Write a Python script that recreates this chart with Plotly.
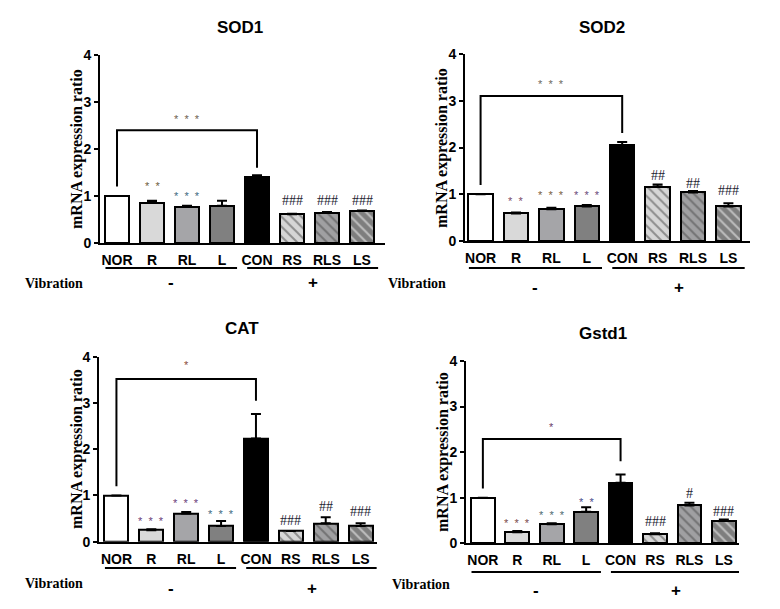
import plotly.graph_objects as go

categories = ["NOR", "R", "RL", "L", "CON", "RS", "RLS", "LS"]
titles = ["SOD1", "SOD2", "CAT", "Gstd1"]

sod1_mean = [1.00, 0.86, 0.77, 0.79, 1.40, 0.61, 0.64, 0.68]
sod1_err = [0.00, 0.04, 0.02, 0.11, 0.04, 0.01, 0.02, 0.01]
sod2_mean = [1.00, 0.59, 0.68, 0.74, 2.05, 1.16, 1.04, 0.74]
sod2_err = [0.00, 0.02, 0.03, 0.03, 0.07, 0.05, 0.03, 0.07]
cat_mean = [1.00, 0.25, 0.61, 0.34, 2.23, 0.23, 0.40, 0.34]
cat_err = [0.00, 0.02, 0.03, 0.11, 0.53, 0.00, 0.13, 0.06]
gstd1_mean = [1.00, 0.24, 0.42, 0.69, 1.33, 0.20, 0.83, 0.50]
gstd1_err = [0.00, 0.03, 0.02, 0.10, 0.18, 0.02, 0.06, 0.02]

means = [sod1_mean, sod2_mean, cat_mean, gstd1_mean]
errs = [sod1_err, sod2_err, cat_err, gstd1_err]

# significance marks: (text, bar index, y value)
sod1_marks = [("*  *  *", 2.0, 2.64), ("*  *", 1, 1.21), ("*  *  *", 2, 0.99),
              ("###", 5, 0.91), ("###", 6, 0.91), ("###", 7, 0.91)]
sod2_marks = [("*  *  *", 2.0, 3.36), ("*  *", 1, 0.86), ("*  *  *", 2, 0.99),
              ("*  *  *", 3, 0.99), ("##", 5, 1.41), ("##", 6, 1.24), ("###", 7, 1.07)]
cat_marks = [("*", 2.0, 3.82), ("*  *  *", 1, 0.45), ("*  *  *", 2, 0.83),
             ("*  *  *", 3, 0.60), ("###", 5, 0.45), ("##", 6, 0.76), ("###", 7, 0.65)]
gstd1_marks = [("*", 2.0, 2.56), ("*  *  *", 1, 0.45), ("*  *  *", 2, 0.62),
               ("*  *", 3, 0.91), ("###", 5, 0.48), ("#", 6, 1.10), ("###", 7, 0.69)]
marks = [sod1_marks, sod2_marks, cat_marks, gstd1_marks]
star_colors = [["#6e6250", "#6e6040", "#3e6a80"],
               ["#6e6a60", "#7a4a6a", "#7a6040", "#6a4a7a"],
               ["#8a4a3a", "#6a3d7a", "#6a3d7a", "#3e6a80"],
               ["#6a3d6a", "#7a4a4a", "#4e6a70", "#4a4a8a"]]

# bracket heights: (NOR bottom, top, CON bottom)
brackets = [(1.2, 2.4, 1.6), (1.2, 3.1, 2.31), (1.2, 3.52, 3.05), (1.2, 2.29, 1.8)]

fills = ["white", "#d9d9d9", "#a5a5a8", "#808080", "black", "#d6d6d6", "#a0a0a2", "#7e7e7e"]
shapes_pat = ["", "", "", "", "", "\\", "\\", "\\"]

# page has an 8px body margin; figure sized to fit the 780x609 window
OX, OY = 8, 8
FW, FH = 764, 593


def px(x):
    return (x - OX) / FW


def py(y):
    return 1 - (y - OY) / FH


# pixel layout for each panel (window coordinates)
panels = [
    dict(xl=100, xr=385, yb=243, yt=55, rng=[-0.486, 7.657], title=(240, 28),
         ytitle=(77, 149), vib=(54, 283), under=268, pm_y=282),
    dict(xl=465, xr=750, yb=241, yt=54, rng=[-0.44, 7.61], title=(602, 28),
         ytitle=(442, 148), vib=(417, 283), under=268, pm_y=287),
    dict(xl=99, xr=377, yb=541.7, yt=356.7, rng=[-0.50, 7.47], title=(242, 328),
         ytitle=(77, 449), vib=(54, 583), under=568, pm_y=588),
    dict(xl=466, xr=739, yb=543.3, yt=361, rng=[-0.49, 7.44], title=(603, 333),
         ytitle=(443, 452), vib=(421, 584), under=572, pm_y=590),
]

SANS = "Liberation Sans, Arial, sans-serif"
SERIF = "Liberation Serif, Times New Roman, serif"

fig = go.Figure()
annotations = []
shapes = []
layout = {}


def ann(**kw):
    d = dict(showarrow=False, xanchor="center", yanchor="middle")
    d.update(kw)
    annotations.append(d)


for i, p in enumerate(panels):
    n = "" if i == 0 else str(i + 1)
    xa, ya = "x" + n, "y" + n
    fig.add_trace(go.Bar(
        x=list(range(len(categories))), y=means[i], width=0.69,
        xaxis=xa, yaxis=ya,
        marker=dict(color=fills, line=dict(color="black", width=2),
                    pattern=dict(shape=shapes_pat, fillmode="overlay",
                                 fgcolor="black", size=7, solidity=0.28)),
        error_y=dict(type="data", array=errs[i], arrayminus=[0] * len(categories),
                     symmetric=False, color="black", thickness=2, width=5),
        showlegend=False, hoverinfo="skip",
    ))
    layout["xaxis" + n] = dict(
        domain=[px(p["xl"]), px(p["xr"])], anchor=ya, range=p["rng"], automargin=False,
        showline=True, linecolor="black", linewidth=2, showgrid=False, zeroline=False,
        tickvals=list(range(len(categories))), ticktext=categories,
        ticks="outside", ticklen=3, tickcolor="rgba(0,0,0,0)",
        tickfont=dict(family=SANS, size=14, color="black", weight="bold"),
    )
    layout["yaxis" + n] = dict(
        domain=[py(p["yb"]), py(p["yt"])], anchor=xa, range=[0, 4], automargin=False,
        showline=True, linecolor="black", linewidth=2, showgrid=False, zeroline=False,
        tickvals=[0, 1, 2, 3, 4], ticks="outside", ticklen=4, tickwidth=2, tickcolor="black",
        tickfont=dict(family=SANS, size=14, color="black", weight="bold"),
    )
    ann(text="<b>%s</b>" % titles[i], x=px(p["title"][0]), y=py(p["title"][1]),
        xref="paper", yref="paper", font=dict(family=SANS, size=17, color="black"))
    ann(text="<b>mRNA expression ratio</b>", x=px(p["ytitle"][0]), y=py(p["ytitle"][1]),
        xref="paper", yref="paper", textangle=-90,
        font=dict(family=SERIF, size=16, color="black"))
    ann(text="<b>Vibration</b>", x=px(p["vib"][0]), y=py(p["vib"][1]),
        xref="paper", yref="paper", font=dict(family=SERIF, size=14, color="black"))
    for txt, gx in (("-", 1.55), ("+", 5.6)):
        ann(text="<b>%s</b>" % txt, x=gx, xref=xa, y=py(p["pm_y"]), yref="paper",
            font=dict(family=SANS, size=17, color="black"))
    for x0, x1 in ((-0.33, 3.43), (3.72, 7.46)):
        shapes.append(dict(type="line", x0=x0, x1=x1, xref=xa, y0=py(p["under"]),
                           y1=py(p["under"]), yref="paper",
                           line=dict(color="black", width=2)))
    b0, bt, b4 = brackets[i]
    shapes.append(dict(type="path", xref=xa, yref=ya,
                       path="M 0 %f L 0 %f L 4 %f L 4 %f" % (b0, bt, bt, b4),
                       line=dict(color="black", width=2)))
    si = 0
    for txt, mx, my in marks[i]:
        if txt.startswith("#"):
            font = dict(family=SERIF, size=14, color="#1c1c30")
        else:
            font = dict(family=SANS, size=11, color=star_colors[i][si])
            si += 1
        ann(text=txt.replace(" ", "\u00a0"), x=mx, y=my, xref=xa, yref=ya, font=font)

fig.update_layout(
    template="none",
    width=FW, height=FH, margin=dict(l=0, r=0, t=0, b=0, autoexpand=False),
    paper_bgcolor="white", plot_bgcolor="white",
    annotations=annotations, shapes=shapes, bargap=0, **layout,
)
fig.write_html("out.html")
